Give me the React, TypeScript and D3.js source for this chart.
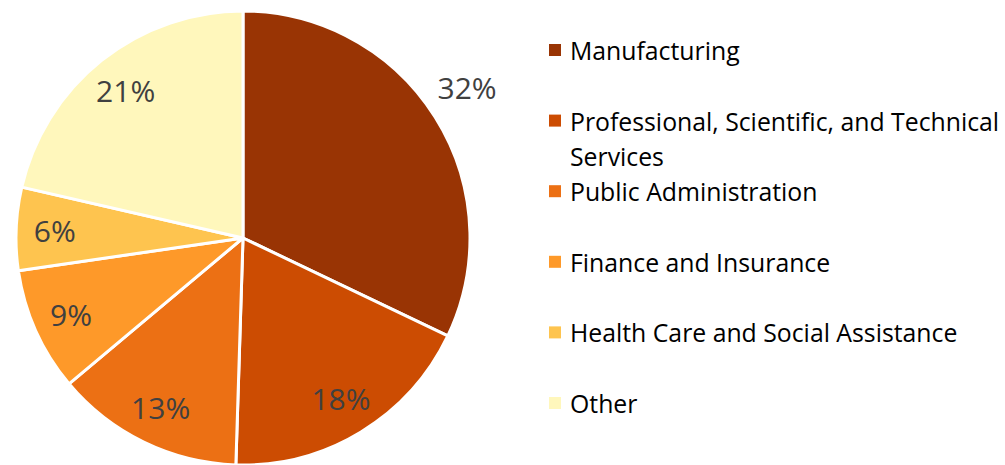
import * as d3 from "d3";
import * as React from "react";

// slices go clockwise from 12 o'clock
const industries = [
  "Manufacturing",
  "Professional, Scientific, and Technical Services",
  "Public Administration",
  "Finance and Insurance",
  "Health Care and Social Assistance",
  "Other",
];
const shares = [32.1, 18.4, 13.4, 8.8, 5.9, 21.4];
const legendLines = [
  ["Manufacturing"],
  ["Professional, Scientific, and Technical", "Services"],
  ["Public Administration"],
  ["Finance and Insurance"],
  ["Health Care and Social Assistance"],
  ["Other"],
];
const colors = ["#993404", "#cc4c02", "#ec7014", "#fe9929", "#fec44f", "#fff7bc"];

const W = 1005;
const H = 465;
const cx = 243;
const cy = 238;
const radius = 227;
const font = "'Open Sans', 'Noto Sans', sans-serif";

export default function App() {
  const pie = d3
    .pie<number>()
    .sort(null)
    .value((d) => d);
  const arcs = pie(shares);
  const arc = d3.arc<d3.PieArcDatum<number>>().innerRadius(0).outerRadius(radius);
  const total = d3.sum(shares);
  const legendY = d3
    .scaleLinear()
    .domain([0, industries.length - 1])
    .range([50, 403]);

  return (
    <svg
      width={W}
      height={H}
      style={{ position: "absolute", left: 0, top: 0, background: "#fff" }}
      fontFamily={font}
    >
      <g transform={`translate(${cx},${cy})`}>
        {arcs.map((a, i) => (
          <path key={"s" + i} d={arc(a) || ""} fill={colors[i]} stroke="#fff" strokeWidth={3} strokeLinejoin="round" />
        ))}
        {arcs.map((a, i) => {
          // biggest slice gets its label outside the pie
          const r = i === 0 ? radius * 1.19 : radius * 0.83;
          const mid = (a.startAngle + a.endAngle) / 2 - (i === 0 ? 0.03 : 0);
          const x = Math.sin(mid) * r;
          const y = -Math.cos(mid) * r;
          return (
            <text
              key={"l" + i}
              x={x}
              y={y}
              textAnchor="middle"
              dominantBaseline="central"
              fontSize={30}
              fill="#404040"
            >
              {Math.round((shares[i] / total) * 100) + "%"}
            </text>
          );
        })}
      </g>
      <g>
        {industries.map((name, i) => {
          const y = legendY(i);
          return (
            <g key={name}>
              <rect x={549} y={y - 6} width={12} height={12} fill={colors[i]} />
              {legendLines[i].map((line, j) => (
                <text
                  key={j}
                  x={570}
                  y={y + j * 35}
                  dominantBaseline="central"
                  fontSize={24.8}
                  fill="#000"
                >
                  {line}
                </text>
              ))}
            </g>
          );
        })}
      </g>
    </svg>
  );
}
